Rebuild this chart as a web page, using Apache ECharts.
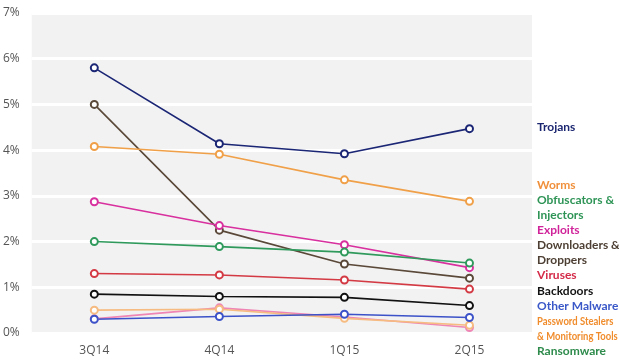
<!DOCTYPE html>
<html><head><meta charset="utf-8">
<script src="https://cdn.jsdelivr.net/npm/echarts@6/dist/echarts.min.js"></script>
<style>html,body{margin:0;padding:0;background:#fff}#c{width:619px;height:364px}</style>
</head><body><div id="c"></div>
<script>
const categories = ['3Q14','4Q14','1Q15','2Q15'];
const yTicks = [0,1,2,3,4,5,6,7];
const trojans = [5.80, 4.14, 3.92, 4.47];
const worms = [4.08, 3.91, 3.35, 2.88];
const obfuscators = [2.00, 1.89, 1.77, 1.53];
const exploits = [2.87, 2.35, 1.93, 1.43];
const downloaders = [5.00, 2.25, 1.51, 1.20];
const viruses = [1.30, 1.27, 1.16, 0.96];
const backdoors = [0.85, 0.80, 0.78, 0.60];
const otherMalware = [0.30, 0.36, 0.41, 0.34];
const passwordStealers = [0.50, 0.52, 0.32, 0.17];
const ransomware = [0.31, 0.55, 0.35, 0.12];
const seriesNames = ['Trojans','Worms','Obfuscators & Injectors','Exploits','Downloaders & Droppers','Viruses','Backdoors','Other Malware','Password Stealers & Monitoring Tools','Ransomware'];
const labelLines = ['Trojans','','','','Worms','Obfuscators &','Injectors','Exploits','Downloaders &','Droppers','Viruses','Backdoors','Other Malware','Password Stealers','& Monitoring Tools','Ransomware'];

const lineColors = ['#1b2675','#f0a048','#2f9a5c','#d8309e','#5a4838','#d33a44','#111111','#3c52c8','#f6bb80','#ee85b4'];
const labelColors = {'Trojans':'#1b2670','Worms':'#f0903c','Obfuscators &':'#2e9456','Injectors':'#2e9456','Exploits':'#d0239a','Downloaders &':'#4d3f33','Droppers':'#4d3f33','Viruses':'#d42a48','Backdoors':'#111','Other Malware':'#3a58c8','Password Stealers':'#f08c2c','& Monitoring Tools':'#f08c2c','Ransomware':'#2e8b4c'};
const dataList = [trojans,worms,obfuscators,exploits,downloaders,viruses,backdoors,otherMalware,passwordStealers,ransomware];
const drawOrder = [9,8,7,6,5,4,3,2,1,0];

const chart = echarts.init(document.getElementById('c'), null, {renderer:'canvas'});
const series = drawOrder.map(i => ({
  name: seriesNames[i], type:'line', data: dataList[i],
  symbol:'emptyCircle', symbolSize:7,
  lineStyle:{color:lineColors[i], width:1.6},
  itemStyle:{color:lineColors[i], borderColor:lineColors[i], borderWidth:1.8},
  emphasis:{disabled:true}, animation:false
}));

const graphics = [];
labelLines.forEach((t, k) => {
  if (!t) return;
  const narrow = (t === 'Password Stealers' || t === '& Monitoring Tools');
  const y = (k === 0) ? 127 : 185 + (k-4)*15.1;
  graphics.push({type:'text', x:537, y:y, scaleX: narrow ? 0.79 : 1,
    style:{text:t, fill:labelColors[t], verticalAlign:'middle', align:'left',
    font: 'bold 12px Lato, "Noto Sans"'}});
});

chart.setOption({
  animation:false,
  grid:{left:26, right:87, top:13, bottom:31, show:true, backgroundColor:'#f2f2f2', borderWidth:0, containLabel:false},
  xAxis:{type:'category', data:categories, boundaryGap:true,
    axisLine:{show:false}, axisTick:{show:false},
    axisLabel:{color:'#555', fontSize:12, fontFamily:'"Open Sans", "Noto Sans"', margin:12},
    splitLine:{show:false}},
  yAxis:{type:'value', min:0, max:7, interval:1,
    axisLine:{show:false}, axisTick:{show:false},
    axisLabel:{color:'#555', fontSize:12, fontFamily:'"Open Sans", "Noto Sans"', margin:12, formatter: v => yTicks.includes(v) ? v + '%' : ''},
    splitLine:{show:true, lineStyle:{color:'#ffffff', width:3}}},
  series: series,
  graphic: graphics
});
</script></body></html>
